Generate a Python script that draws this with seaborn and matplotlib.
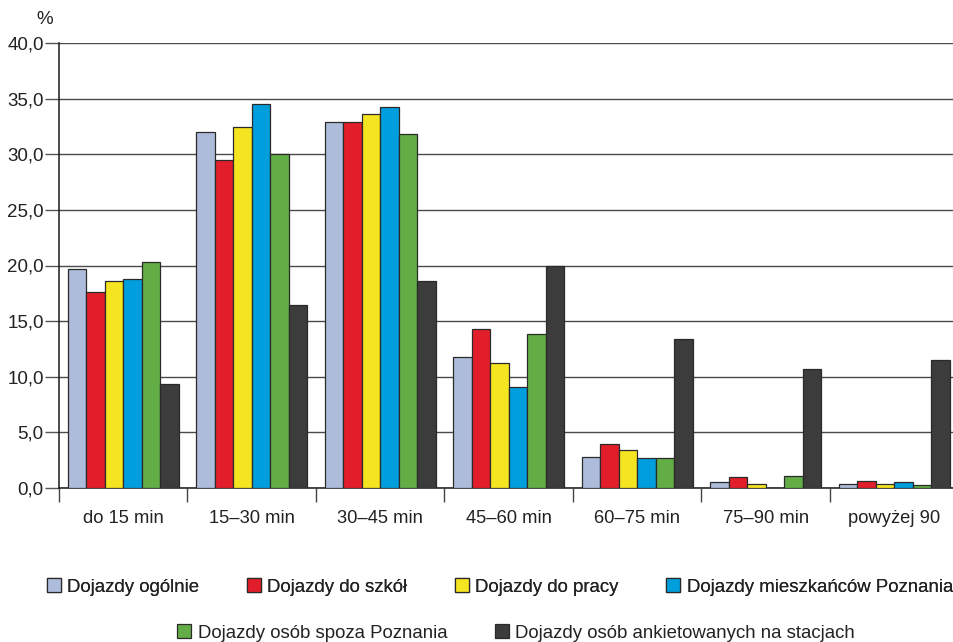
import matplotlib
matplotlib.use("Agg")
import matplotlib.pyplot as plt
from matplotlib.patches import Patch
from matplotlib.ticker import FixedLocator, FuncFormatter
import seaborn as sns
import pandas as pd

categories = ["do 15 min", "15–30 min", "30–45 min", "45–60 min",
              "60–75 min", "75–90 min", "powyżej 90"]
series = ["Dojazdy ogólnie", "Dojazdy do szkół", "Dojazdy do pracy",
          "Dojazdy mieszkańców Poznania", "Dojazdy osób spoza Poznania",
          "Dojazdy osób ankietowanych na stacjach"]

ogolnie = [19.7, 32.0, 32.9, 11.8, 2.75, 0.57, 0.39]
szkoly = [17.6, 29.5, 32.9, 14.3, 4.0, 1.0, 0.63]
praca = [18.6, 32.45, 33.6, 11.2, 3.4, 0.33, 0.33]
mieszkancy = [18.8, 34.5, 34.25, 9.1, 2.7, 0.0, 0.57]
spoza = [20.3, 30.0, 31.8, 13.8, 2.7, 1.05, 0.27]
stacje = [9.35, 16.45, 18.6, 20.0, 13.4, 10.7, 11.5]

colors = ["#aebcdc", "#e31e2b", "#f5e520", "#009edd", "#62ad45", "#3c3c3c"]

values = [ogolnie, szkoly, praca, mieszkancy, spoza, stacje]
rows = []
for name, vals in zip(series, values):
    for cat, v in zip(categories, vals):
        rows.append({"kategoria": cat, "seria": name, "wartosc": v})
df = pd.DataFrame(rows)

sns.set_theme(style="white")
plt.rcParams["font.family"] = ["Liberation Sans", "DejaVu Sans"]

fig = plt.figure(figsize=(9.54, 6.42), dpi=100)
W, H = 954, 642
ax = fig.add_axes([59 / W, 1 - 488 / H, (954 - 59) / W, (488 - 43) / H])

sns.barplot(data=df, x="kategoria", y="wartosc", hue="seria",
            order=categories, hue_order=series, palette=colors,
            width=0.86, gap=0, saturation=1, edgecolor="#2a2a2a",
            linewidth=0.9, legend=False, ax=ax, zorder=3)

ax.set_xlim(-0.5, -0.5 + (954 - 59) / 128.5)
ax.set_ylim(0, 40)
ax.set_yticks([0, 5, 10, 15, 20, 25, 30, 35, 40])
ax.yaxis.set_major_formatter(FuncFormatter(lambda v, p: f"{v:.1f}".replace(".", ",")))
ax.grid(axis="y", color="#4a4a4a", linewidth=1.0, zorder=0)
ax.set_axisbelow(True)
ax.set_xlabel("")
ax.set_ylabel("")

for side in ["top", "right"]:
    ax.spines[side].set_visible(False)
ax.spines["left"].set_color("#1a1a1a")
ax.spines["left"].set_linewidth(1.1)
ax.spines["bottom"].set_color("#1a1a1a")
ax.spines["bottom"].set_linewidth(1.1)

ax.tick_params(axis="y", which="major", direction="out", length=10, width=1,
               color="#555555", labelsize=13.5, labelcolor="#222222", pad=1, left=True)
ax.tick_params(axis="x", which="major", length=0, labelsize=13.2,
               labelcolor="#222222", pad=16)
ax.xaxis.set_minor_locator(FixedLocator([i - 0.5 for i in range(len(categories) + 1)]))
ax.tick_params(axis="x", which="minor", direction="out", length=10, width=1,
               color="#444444", bottom=True)

fig.text(45 / W, 1 - 19 / H, "%", fontsize=13.5, color="#222222",
         ha="center", va="center")

handles = [Patch(facecolor=c, edgecolor="#2a2a2a", linewidth=0.9, label=s)
           for c, s in zip(colors, series)]
leg_kw = dict(frameon=False, fontsize=13.4, handlelength=0.75, handleheight=0.8,
              handletextpad=0.35, columnspacing=2.55, borderpad=0, labelcolor="#222222")
leg1 = fig.legend(handles=handles[:4], ncol=4, loc="center",
                  bbox_to_anchor=(500 / W, 1 - 587 / H), **leg_kw)
fig.add_artist(leg1)
fig.legend(handles=handles[4:], ncol=2, loc="center",
           bbox_to_anchor=(516 / W, 1 - 633 / H), **leg_kw)

fig.savefig("out.png", dpi=100)
